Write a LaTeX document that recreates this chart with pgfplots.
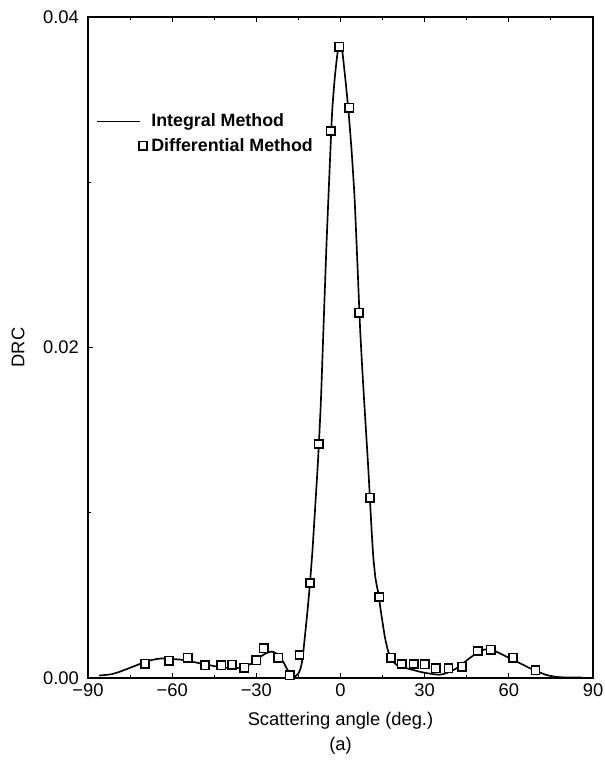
\documentclass[border=0pt]{standalone}
\usepackage{pgfplots}
\pgfplotsset{compat=1.18}
\usepackage{fontspec}
\setmainfont{Liberation Sans}

\pgfplotsset{
    lineleg/.style={legend image code/.code={\path (0pt,0pt) (30pt,0pt); \draw[##1] (0pt,0pt) -- (25.5pt,0pt);}},
    markleg/.style={legend image code/.code={\path (0pt,0pt) (30pt,0pt); \draw[##1] plot coordinates {(27.5pt,0pt)};}},
}

\begin{document}
\begin{tikzpicture}
\useasboundingbox (-52.8pt,-52.2pt) rectangle (309.6pt,406.8pt);
\begin{axis}[
    scale only axis,
    at={(0pt,0pt)}, anchor=south west,
    width=303pt, height=396.6pt,
    clip=false,
    xmin=-90, xmax=90,
    ymin=0, ymax=0.04,
    xtick={-90,-60,-30,0,30,60,90},
    xticklabels={−90,−60,−30,0,30,60,90},
    minor xtick={-75,-45,-15,15,45,75},
    ytick={0,0.02,0.04},
    yticklabels={0.00,0.02,0.04},
    minor ytick={0.01,0.03},
    scaled y ticks=false,
    tick align=inside,
    xtick pos=both,
    ytick pos=left,
    major tick length=3.2pt,
    minor tick length=2pt,
    axis line style={line width=1.2pt},
    every tick/.style={line width=0.6pt, black},
    tick label style={font=\fontsize{11}{12}\selectfont},
    yticklabel style={xshift=-2pt},
    /pgf/number format/assume math mode=true,
    xlabel={Scattering angle (deg.)},
    xlabel style={at={(axis description cs:0.5,-0.0711)}, anchor=base,
        font=\fontsize{11}{12}\selectfont},
    ylabel={DRC},
    ylabel style={at={(axis description cs:-0.1386,0.5)}, anchor=center,
        font=\fontsize{11}{12}\selectfont},
    legend style={at={(axis description cs:0.006,0.864)}, anchor=north west, draw=none, fill=none,
        font=\bfseries\fontsize{10.7}{12}\selectfont, row sep=1.3pt},
    legend cell align=left,
]
% integral method (solid curve)
\addplot[black, line width=1pt, smooth, tension=0.35, lineleg] coordinates {
    (-86,0.00015) (-82,0.00022) (-79,0.00036) (-75,0.00062) (-71,0.00088)
    (-67.5,0.00108) (-64,0.00118) (-60,0.00115) (-57,0.00111) (-54,0.00103)
    (-51,0.00092) (-48,0.00082) (-45,0.00072) (-42,0.00064) (-39.4,0.00060)
    (-36,0.00062) (-33.4,0.00074) (-31,0.00095) (-28.7,0.00127) (-26.5,0.00150)
    (-24.5,0.00160) (-23,0.00150) (-21.6,0.00128) (-20.3,0.00095) (-19.2,0.00059)
    (-18,0.00025) (-17,0.00010) (-16,0.00012) (-15,0.00028) (-14.2,0.00060)
    (-13.5,0.00120) (-12.7,0.00250) (-11.8,0.00400) (-10.9,0.00570) (-10,0.00770)
    (-9,0.01040) (-8,0.01320) (-7,0.01670) (-6,0.02150) (-5,0.02620)
    (-4,0.03030) (-3,0.03420) (-2,0.03640) (-1,0.03790) (-0.2,0.03840)
    (0.5,0.03810) (1,0.03740) (2,0.03580) (3,0.03400) (4,0.03180)
    (5,0.02910) (6,0.02520) (7,0.02110) (8,0.01800) (9,0.01520)
    (10,0.01240) (11,0.00920) (11.7,0.00730) (12.5,0.00600) (13.5,0.00510)
    (14.5,0.00390) (15.8,0.00250) (16.7,0.00180) (17.6,0.00130) (18.7,0.00100)
    (20,0.00080) (22,0.00065) (24,0.00057) (26,0.00048) (29,0.00035)
    (32,0.00026) (35,0.00020) (37,0.00025) (39,0.00038) (41.5,0.00060)
    (43.7,0.00089) (46,0.00120) (48.5,0.00150) (50.5,0.00168) (52.1,0.00174)
    (54,0.00168) (55.6,0.00159) (58.5,0.00135) (61.6,0.00109) (64.5,0.00085)
    (67.5,0.00059) (70.5,0.00037) (73.5,0.00018) (76.5,0.00008) (79.4,0.00004)
    (86,0.00003)
};
\addlegendentry{Integral Method}
% differential method (open squares)
\addplot[only marks, mark=square*, mark size=2.5pt,
    mark options={fill=white, draw=black, line width=0.9pt}, markleg]
    coordinates {
    (-69.7,0.00087) (-61.1,0.00105) (-54.5,0.00123) (-48.3,0.00077) (-42.5,0.00077)
    (-38.7,0.00080) (-34.3,0.00062) (-30.0,0.00107) (-27.4,0.00180) (-22.2,0.00123)
    (-18.1,0.00016) (-14.6,0.00139) (-10.9,0.00575) (-7.7,0.01416) (-3.5,0.03310)
    (-0.4,0.03820) (3.1,0.03450) (6.6,0.02210) (10.5,0.01090) (13.8,0.00490)
    (18.0,0.00123) (21.8,0.00085) (26.1,0.00085) (30.0,0.00083) (34.0,0.00059)
    (38.5,0.00059) (43.3,0.00068) (48.9,0.00163) (53.5,0.00170) (61.5,0.00123)
    (69.5,0.00047)
};
\addlegendentry{Differential Method}
\node[anchor=base, font=\fontsize{11}{12}\selectfont]
    at (axis description cs:0.5,-0.109) {(a)};
\end{axis}
\end{tikzpicture}
\end{document}
